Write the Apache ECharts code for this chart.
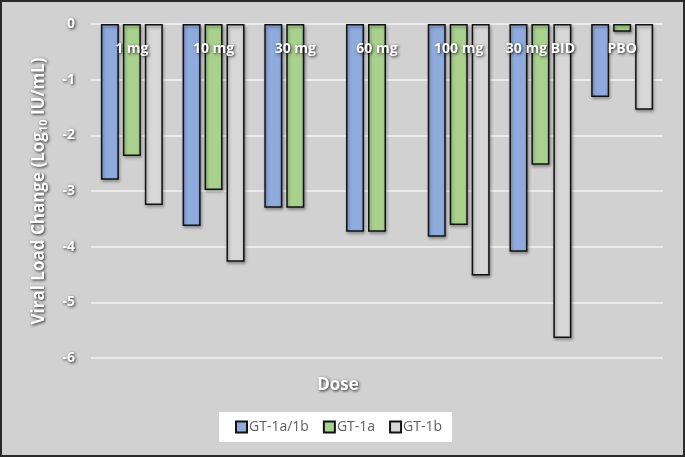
<!DOCTYPE html>
<html>
<head>
<meta charset="utf-8">
<script src="https://cdn.jsdelivr.net/npm/echarts@6/dist/echarts.min.js"></script>
<style>
html,body{margin:0;padding:0;background:#d0d1d0;}
#c{width:685px;height:457px;}
</style>
</head>
<body>
<div id="c"></div>
<script>
const categories = ['1 mg', '10 mg', '30 mg', '60 mg', '100 mg', '30 mg BID', 'PBO'];
const gt1a1b = [-2.80, -3.63, -3.30, -3.73, -3.82, -4.09, -1.31];
const gt1a = [-2.37, -2.98, -3.30, -3.73, -3.61, -2.53, -0.14];
const gt1b = [-3.25, -4.27, null, null, -4.52, -5.64, -1.54];
const yTicks = [-6, -5, -4, -3, -2, -1, 0];
const seriesNames = ['GT-1a/1b', 'GT-1a', 'GT-1b'];
const colors = ['#8faadc', '#a9d18e', '#d6d7d6'];

const FONT = '"Open Sans", sans-serif';
const shadowText = {
  color: '#ffffff',
  textShadowColor: 'rgba(20,20,20,0.9)',
  textShadowBlur: 3,
  textShadowOffsetX: 1,
  textShadowOffsetY: 1,
  fontFamily: FONT
};

const chart = echarts.init(document.getElementById('c'));
const barStyle = (c) => ({
  color: c,
  borderColor: '#111',
  borderWidth: 1.5,
  shadowColor: 'rgba(0,0,0,0.35)',
  shadowBlur: 3,
  shadowOffsetX: 1,
  shadowOffsetY: 2
});

chart.setOption({
  backgroundColor: '#d0d1d0',
  animation: false,
  textStyle: { fontFamily: FONT },
  grid: { left: 91, right: 22, top: 24, bottom: 99 },
  legend: {
    data: seriesNames,
    left: 219,
    top: 412,
    width: 246,
    backgroundColor: '#ffffff',
    padding: [8, 10, 8, 16],
    itemGap: 14,
    itemWidth: 11,
    itemHeight: 11,
    icon: 'rect',
    textStyle: { color: '#606060', fontSize: 14, fontFamily: FONT, padding: [0, 0, 0, -3] }
  },
  title: {
    text: 'Dose',
    left: 333,
    top: 372,
    textAlign: 'center',
    textStyle: Object.assign({}, shadowText, { fontSize: 17, fontWeight: 'bold' })
  },
  xAxis: {
    type: 'category',
    data: categories,
    position: 'top',
    z: 10,
    axisLine: { show: false },
    axisTick: { show: false },
    axisLabel: Object.assign({}, shadowText, { fontSize: 14, fontWeight: 'bold', margin: -32, interval: 0 })
  },
  yAxis: {
    type: 'value',
    min: -6,
    max: 0,
    interval: 1,
    axisLine: { show: false },
    axisTick: { show: false },
    splitLine: { lineStyle: { color: '#eaeaea', width: 2 } },
    axisLabel: Object.assign({}, shadowText, { fontSize: 14, fontWeight: 'bold', margin: 16,
      formatter: (v) => yTicks.includes(v) ? String(v) : '' }),
    name: '{a|Viral Load Change (Log}{s|10}{a| IU/mL)}',
    nameLocation: 'middle',
    nameRotate: 90,
    nameGap: 42,
    nameTextStyle: {
      rich: {
        a: Object.assign({}, shadowText, { fontSize: 17, fontWeight: 'bold' }),
        s: Object.assign({}, shadowText, { fontSize: 11, fontWeight: 'bold', padding: [9, 0, 0, 0] })
      }
    }
  },
  series: [
    { name: seriesNames[0], type: 'bar', data: gt1a1b, barWidth: 18, barGap: '22%', itemStyle: barStyle(colors[0]) },
    { name: seriesNames[1], type: 'bar', data: gt1a, barWidth: 18, barGap: '22%', itemStyle: barStyle(colors[1]) },
    { name: seriesNames[2], type: 'bar', data: gt1b, barWidth: 18, barGap: '22%', itemStyle: barStyle(colors[2]) }
  ],
  graphic: [{
    type: 'rect',
    shape: { x: 1, y: 1, width: 683, height: 455 },
    style: { fill: 'none', stroke: '#2a2a2a', lineWidth: 2 },
    z: 100
  }]
});
</script>
</body>
</html>
